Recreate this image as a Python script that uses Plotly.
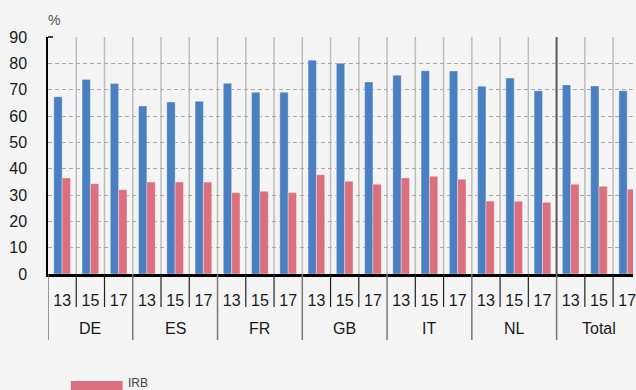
import plotly.graph_objects as go

# Data: share (%) by country and year
countries = ["DE", "ES", "FR", "GB", "IT", "NL", "Total"]
years = ["13", "15", "17"]
series_names = ["SA", "IRB"]
sa_values = [67.3, 73.9, 72.3, 63.8, 65.3, 65.6, 72.4, 69.0, 69.0,
             81.2, 80.0, 72.9, 75.5, 77.2, 77.1, 71.3, 74.4, 69.6,
             71.8, 71.4, 69.6]
irb_values = [36.5, 34.3, 32.0, 34.9, 34.9, 34.9, 30.9, 31.4, 30.9,
              37.7, 35.2, 34.1, 36.5, 37.1, 36.0, 27.7, 27.6, 27.2,
              34.1, 33.3, 32.2]

BLUE = "#4a7fc2"
RED = "#dc6f7e"
BG = "#f3f4f3"
FONT = "Liberation Sans, Arial, sans-serif"

W, H = 636, 390
ML, MT, MB = 48, 37, 116
plot_w = W - ML
plot_h = H - MT - MB
slot_px = 28.4

n = len(countries) * len(years)
xs = list(range(n))
year_labels = [years[i % len(years)] for i in xs]
x_max = -0.5 + plot_w / slot_px

fig = go.Figure()
fig.add_trace(go.Bar(x=xs, y=sa_values, name=series_names[0], marker_color=BLUE,
                     marker_line=dict(color="rgba(255,255,255,0.35)", width=1)))
fig.add_trace(go.Bar(x=xs, y=irb_values, name=series_names[1], marker_color=RED,
                     marker_line=dict(color="rgba(255,255,255,0.35)", width=1)))

shapes = []
# vertical separators inside the plot
for k in range(1, n):
    if k == 18:
        shapes.append(dict(type="line", xref="x", yref="paper", x0=k - 0.5, x1=k - 0.5,
                           y0=0, y1=1, line=dict(color="#555555", width=2), layer="below"))
    else:
        shapes.append(dict(type="line", xref="x", yref="paper", x0=k - 0.5, x1=k - 0.5,
                           y0=0, y1=1, line=dict(color="#bdbdbd", width=1.5), layer="below"))

# separators in the category rows under the axis
yr_bottom = -(307 - 274) / plot_h
grp_bottom = -(340 - 274) / plot_h
for k in range(0, n):
    if k % 3 == 0:
        shapes.append(dict(type="line", xref="x", yref="paper", x0=k - 0.5, x1=k - 0.5,
                           y0=0, y1=grp_bottom, line=dict(color="#777777", width=1.5)))
    else:
        shapes.append(dict(type="line", xref="x", yref="paper", x0=k - 0.5, x1=k - 0.5,
                           y0=0, y1=yr_bottom, line=dict(color="#222222", width=1.2)))

# small cap at the top of the value axis
shapes.append(dict(type="line", xref="paper", yref="paper", x0=0, x1=5 / plot_w,
                   y0=1, y1=1, line=dict(color="#000000", width=1.5)))

# legend swatch
shapes.append(dict(type="rect", xref="paper", yref="paper",
                   x0=(71 - ML) / plot_w, x1=(123 - ML) / plot_w,
                   y0=(274 - 381) / plot_h, y1=(274 - 395) / plot_h,
                   fillcolor=RED, line=dict(width=0)))

annotations = []
# country labels centred under each group
for gi, c in enumerate(countries):
    annotations.append(dict(x=gi * 3 + 1, y=-(328 - 274) / plot_h, xref="x", yref="paper",
                            text=c, showarrow=False, font=dict(family=FONT, size=16, color="#1a1a1a"),
                            xanchor="center", yanchor="middle"))
# unit label above the value axis
annotations.append(dict(x=(46 - ML) / plot_w, y=(274 - 20) / plot_h, xref="paper", yref="paper",
                        text="%", showarrow=False, xanchor="left", yanchor="middle",
                        font=dict(family=FONT, size=14, color="#555555")))
# legend label
annotations.append(dict(x=(126 - ML) / plot_w, y=(274 - 383) / plot_h, xref="paper", yref="paper",
                        text=series_names[1], showarrow=False, xanchor="left", yanchor="middle",
                        font=dict(family="Liberation Sans Narrow, Arial Narrow, " + FONT,
                                  size=12, color="#444444")))

fig.update_layout(
    width=W, height=H,
    margin=dict(l=ML, r=0, t=MT, b=MB, pad=0),
    paper_bgcolor=BG, plot_bgcolor=BG,
    barmode="group", bargap=0.41, bargroupgap=0,
    showlegend=False,
    shapes=shapes, annotations=annotations,
    xaxis=dict(range=[-0.5, x_max], tickmode="array", tickvals=xs, ticktext=year_labels,
               showgrid=False, zeroline=False, showline=True, linecolor="#000000", linewidth=2.5,
               ticks="", ticklabelstandoff=10, ticklabeloverflow="allow",
               tickfont=dict(family=FONT, size=16, color="#1a1a1a"), fixedrange=True),
    yaxis=dict(range=[0, 90], tickvals=list(range(0, 91, 10)), showgrid=True,
               gridcolor="#a9a9a9", griddash="4px,3px", gridwidth=1,
               zeroline=False, showline=True, linecolor="#000000", linewidth=1.5,
               ticks="", ticklabelstandoff=16,
               tickfont=dict(family=FONT, size=16, color="#1a1a1a"), fixedrange=True),
)

fig.write_html("out.html", config={"displayModeBar": False})
